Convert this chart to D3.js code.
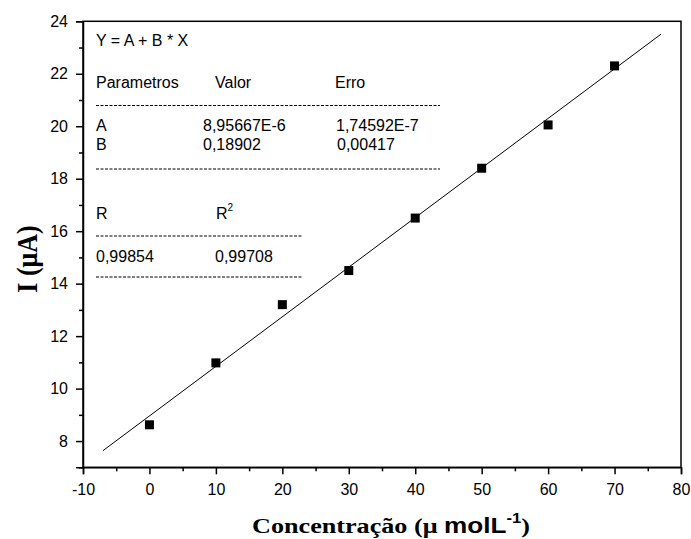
<!DOCTYPE html>
<html><head><meta charset="utf-8">
<script src="https://cdn.jsdelivr.net/npm/d3@7"></script>
<style>body{margin:0;background:#fff}svg{display:block}</style>
</head><body>
<svg id="c" width="691" height="539"></svg>
<script>
const concentration = [0, 10, 20, 30, 40, 50, 60, 70];
const current = [8.62, 10.98, 13.2, 14.5, 16.5, 18.4, 20.05, 22.3];
const fitA = 8.95667, fitB = 0.18902;
const fitRange = [-7, 77];
const xTicks = [-10, 0, 10, 20, 30, 40, 50, 60, 70, 80];
const yTicks = [8, 10, 12, 14, 16, 18, 20, 22, 24];
const tableHeader = ["Parametros", "Valor", "Erro"];
const tableRows = [["A", "8,95667E-6", "1,74592E-7"], ["B", "0,18902", "0,00417"]];
const rRow = ["0,99854", "0,99708"];

const svg = d3.select("#c");
const L = 83, R = 681, T = 21.3, B = 467.3;
const x = d3.scaleLinear().domain([-10, 80]).range([L, R]);
const y = d3.scaleLinear().domain([7, 24]).range([B, T]);
const font = "'Liberation Sans', Arial, sans-serif";
const serif = "'Liberation Serif', 'Times New Roman', serif";
const fmt = d => String(d);

// frame
svg.append("rect").attr("x", L).attr("y", T).attr("width", R - L).attr("height", B - T)
  .attr("fill", "none").attr("stroke", "#000").attr("stroke-width", 1.5);

// x axis
svg.append("g").attr("transform", `translate(0,${B})`)
  .call(d3.axisBottom(x).tickValues(xTicks).tickSize(7).tickPadding(9).tickFormat(fmt));
svg.append("g").attr("transform", `translate(0,${B})`)
  .call(d3.axisBottom(x).tickValues(d3.range(-5, 80, 10)).tickSize(4).tickFormat(""))
  .call(g => g.select(".domain").remove());
// y axis
svg.append("g").attr("transform", `translate(${L},0)`)
  .call(d3.axisLeft(y).tickValues(yTicks).tickSize(7).tickPadding(8).tickFormat(fmt));
svg.append("g").attr("transform", `translate(${L},0)`)
  .call(d3.axisLeft(y).tickValues(d3.range(7, 24, 2)).tickSize(4).tickFormat(""))
  .call(g => g.select(".domain").remove());
svg.selectAll(".domain").attr("stroke-width", 1.5);
svg.selectAll(".tick line").attr("stroke-width", 1.5);
svg.selectAll(".tick text").attr("font-family", font).attr("font-size", 16).attr("fill", "#000");

// fit line
svg.append("line")
  .attr("x1", x(fitRange[0])).attr("y1", y(fitA + fitB * fitRange[0]))
  .attr("x2", x(fitRange[1])).attr("y2", y(fitA + fitB * fitRange[1]))
  .attr("stroke", "#000").attr("stroke-width", 1);

// points
svg.append("g").selectAll("rect").data(concentration).join("rect")
  .attr("x", (d) => x(d) - 4.5).attr("y", (d, i) => y(current[i]) - 4.5)
  .attr("width", 9).attr("height", 9).attr("fill", "#000");

// inset table
const tg = svg.append("g").attr("font-family", font).attr("font-size", 16).attr("fill", "#000");
tg.append("text").attr("x", 96).attr("y", 46).text("Y = A + B * X");
const cols = [96, 215, 335];
tableHeader.forEach((t, i) => tg.append("text").attr("x", cols[i]).attr("y", 88).text(t));
const dash = (x1, x2, yy) => svg.append("line").attr("x1", x1).attr("x2", x2).attr("y1", yy).attr("y2", yy)
  .attr("stroke", "#000").attr("stroke-width", 1).attr("stroke-dasharray", "3,1.5");
dash(96, 440, 105.5);
const cols2 = [96, 203, 336];
tableRows.forEach((row, r) => row.forEach((t, i) =>
  tg.append("text").attr("x", cols2[i] + (r === 1 && i === 2 ? 1 : 0)).attr("y", 131 + r * 18.6).text(t)));
dash(96, 440, 169);
tg.append("text").attr("x", 96).attr("y", 219).text("R");
const r2 = tg.append("text").attr("x", 216).attr("y", 219).text("R");
r2.append("tspan").attr("font-size", 10).attr("dy", -8).text("2");
dash(96, 302, 236);
tg.append("text").attr("x", 96).attr("y", 262).text(rRow[0]);
tg.append("text").attr("x", 215).attr("y", 262).text(rRow[1]);
dash(96, 302, 277);

// axis titles
svg.append("text").attr("transform", "translate(37,259) scale(1.15,1) rotate(-90)").attr("text-anchor", "middle")
  .attr("font-family", serif).attr("font-weight", "bold").attr("font-size", 26).text("I (μA)");
const xt = svg.append("text").attr("x", 0).attr("y", 0).attr("text-anchor", "middle")
  .attr("font-weight", "bold").attr("font-size", 22);
xt.append("tspan").attr("font-family", serif).text("Concentração (μ ");
xt.append("tspan").attr("font-family", font).text("molL");
xt.append("tspan").attr("font-family", font).attr("font-size", 14).attr("dy", -10).text("-1");
xt.append("tspan").attr("font-family", serif).attr("dy", 10).text(")");
const w = xt.node().getBBox().width;
xt.attr("transform", `translate(391,533) scale(${278 / w},1)`);
</script>
</body></html>
